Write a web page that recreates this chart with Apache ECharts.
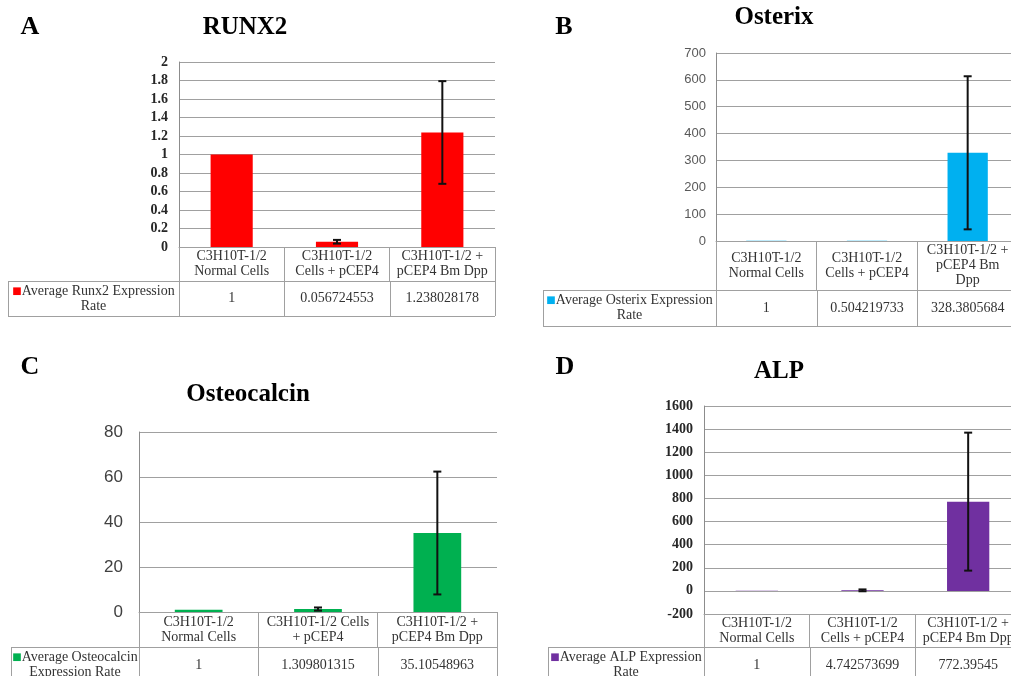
<!DOCTYPE html>
<html>
<head>
<meta charset="utf-8">
<script src="https://cdn.jsdelivr.net/npm/echarts@6/dist/echarts.min.js"></script>
<style>html,body{margin:0;padding:0;background:#fff}#main{width:1011px;height:676px}</style>
</head>
<body>
<div id="main"></div>
<script>
/* data */
var runx2Labels = ['C3H10T-1/2\nNormal Cells', 'C3H10T-1/2\nCells + pCEP4', 'C3H10T-1/2 +\npCEP4 Bm Dpp'];
var runx2Values = [1, 0.056724553, 1.238028178];
var runx2Errors = [0, 0.02, 0.555];
var runx2Ticks = [0, 2, 0.2];

var osterixLabels = ['C3H10T-1/2\nNormal Cells', 'C3H10T-1/2\nCells + pCEP4', 'C3H10T-1/2 +\npCEP4 Bm\nDpp'];
var osterixValues = [1, 0.504219733, 328.3805684];
var osterixErrors = [0, 0, 285];
var osterixTicks = [0, 700, 100];

var osteocalcinLabels = ['C3H10T-1/2\nNormal Cells', 'C3H10T-1/2 Cells\n+ pCEP4', 'C3H10T-1/2 +\npCEP4 Bm Dpp'];
var osteocalcinValues = [1, 1.309801315, 35.10548963];
var osteocalcinErrors = [0, 0.7, 27.3];
var osteocalcinTicks = [0, 80, 20];

var alpLabels = ['C3H10T-1/2\nNormal Cells', 'C3H10T-1/2\nCells + pCEP4', 'C3H10T-1/2 +\npCEP4 Bm Dpp'];
var alpValues = [1, 4.742573699, 772.39545];
var alpErrors = [0, 8, 597];
var alpTicks = [-200, 1600, 200];

var seriesNames = ['Average Runx2 Expression\nRate', 'Average Osterix Expression\nRate',
	'Average Osteocalcin\nExpression Rate', 'Average ALP Expression\nRate'];

var SERIF = '"Liberation Serif", "Times New Roman", serif';
var SANS = '"Liberation Sans", Arial, sans-serif';
var LINE = '#a0a0a0';

var panels = [
	{letter: 'A', letterAt: [30, 27], title: 'RUNX2', titleAt: [245, 28], color: '#ff0000',
		labels: runx2Labels, values: runx2Values, errors: runx2Errors, ticks: runx2Ticks, name: seriesNames[0],
		grid: {left: 179, top: 62, width: 316, height: 185}, headerBottom: 281, rowBottom: 316, cellLeft: 8,
		yLabel: {fontFamily: SERIF, fontSize: 14, fontWeight: 'bold', color: '#262626', margin: 11}},
	{letter: 'B', letterAt: [564, 27], title: 'Osterix', titleAt: [774, 18], color: '#00b0f0',
		labels: osterixLabels, values: osterixValues, errors: osterixErrors, ticks: osterixTicks, name: seriesNames[1],
		grid: {left: 716, top: 53, width: 302, height: 188}, headerBottom: 290, rowBottom: 326, cellLeft: 543,
		yLabel: {fontFamily: SANS, fontSize: 13, color: '#595959', margin: 10}},
	{letter: 'C', letterAt: [30, 367], title: 'Osteocalcin', titleAt: [248, 395], color: '#00b050',
		labels: osteocalcinLabels, values: osteocalcinValues, errors: osteocalcinErrors, ticks: osteocalcinTicks, name: seriesNames[2],
		grid: {left: 139, top: 432, width: 358, height: 180}, headerBottom: 647, rowBottom: 683, cellLeft: 11,
		yLabel: {fontFamily: SANS, fontSize: 17, color: '#404040', margin: 16}},
	{letter: 'D', letterAt: [565, 367], title: 'ALP', titleAt: [779, 372], color: '#7030a0',
		labels: alpLabels, values: alpValues, errors: alpErrors, ticks: alpTicks, name: seriesNames[3],
		grid: {left: 704, top: 406, width: 317, height: 208}, headerBottom: 647, rowBottom: 683, cellLeft: 548,
		yLabel: {fontFamily: SERIF, fontSize: 14, fontWeight: 'bold', color: '#262626', margin: 11}}
];

var myChart = echarts.init(document.getElementById('main'));

function errorBars(params, api) {
	var v = api.value(1), e = api.value(2);
	if (!e) return;
	var hi = api.coord([api.value(0), v + e]);
	var lo = api.coord([api.value(0), v - e]);
	var w = 4;
	var st = {stroke: '#111', lineWidth: 2};
	return {
		type: 'group',
		children: [
			{type: 'line', shape: {x1: hi[0], y1: hi[1], x2: lo[0], y2: lo[1]}, style: st},
			{type: 'line', shape: {x1: hi[0] - w, y1: hi[1], x2: hi[0] + w, y2: hi[1]}, style: st},
			{type: 'line', shape: {x1: lo[0] - w, y1: lo[1], x2: lo[0] + w, y2: lo[1]}, style: st}
		]
	};
}

var grids = [], xAxes = [], yAxes = [], series = [], graphics = [];

panels.forEach(function (p, k) {
	var g = p.grid;
	var gBottom = g.top + g.height;
	var headerH = p.headerBottom - gBottom;
	grids.push({left: g.left, top: g.top, width: g.width, height: g.height, outerBoundsMode: 'none', containLabel: false});
	xAxes.push({
		type: 'category', gridIndex: k, data: p.labels,
		axisLine: {show: true, onZero: false, lineStyle: {color: LINE}},
		axisTick: {show: true, length: headerH, interval: 0, lineStyle: {color: LINE}},
		axisLabel: {interval: 0, margin: headerH / 2, verticalAlign: 'middle', lineHeight: 15,
			fontFamily: SERIF, fontSize: 14, color: '#333'}
	});
	var yl = Object.assign({formatter: function (v) { return String(v); }}, p.yLabel);
	yAxes.push({
		type: 'value', gridIndex: k, min: p.ticks[0], max: p.ticks[1], interval: p.ticks[2],
		axisLine: {show: true, lineStyle: {color: '#8c8c8c'}},
		axisTick: {show: false},
		splitLine: {lineStyle: {color: LINE}},
		axisLabel: yl
	});
	series.push({
		name: p.name, type: 'bar', xAxisIndex: k, yAxisIndex: k, barWidth: '40%',
		itemStyle: {color: p.color}, data: p.values
	});
	series.push({
		type: 'custom', xAxisIndex: k, yAxisIndex: k, renderItem: errorBars,
		encode: {x: 0, y: 1}, z: 5,
		data: p.values.map(function (v, i) { return [i, v, p.errors[i]]; })
	});

	// panel letter and title
	graphics.push({type: 'text', x: p.letterAt[0], y: p.letterAt[1],
		style: {text: p.letter, font: 'bold 26px ' + SERIF, fill: '#000', align: 'center', verticalAlign: 'middle'}});
	graphics.push({type: 'text', x: p.titleAt[0], y: p.titleAt[1],
		style: {text: p.title, font: 'bold 25px ' + SERIF, fill: '#000', align: 'center', verticalAlign: 'middle'}});

	// data table row
	var right = g.left + g.width;
	var colW = g.width / p.labels.length;
	var rowMid = (p.headerBottom + p.rowBottom) / 2;
	[p.headerBottom, p.rowBottom].forEach(function (y) {
		graphics.push({type: 'line', shape: {x1: p.cellLeft, y1: y + 0.5, x2: right, y2: y + 0.5}, style: {stroke: LINE, lineWidth: 1}});
	});
	graphics.push({type: 'line', shape: {x1: p.cellLeft + 0.5, y1: p.headerBottom, x2: p.cellLeft + 0.5, y2: p.rowBottom}, style: {stroke: LINE, lineWidth: 1}});
	for (var c = 0; c <= p.labels.length; c++) {
		var x = Math.round(g.left + c * colW) + 0.5;
		graphics.push({type: 'line', shape: {x1: x, y1: p.headerBottom, x2: x, y2: p.rowBottom}, style: {stroke: LINE, lineWidth: 1}});
	}
	p.values.forEach(function (v, i) {
		graphics.push({type: 'text', x: g.left + (i + 0.5) * colW, y: rowMid,
			style: {text: String(v), font: '14px ' + SERIF, fill: '#333', align: 'center', verticalAlign: 'middle'}});
	});
	var nameLines = p.name.split('\n');
	graphics.push({type: 'text', x: (p.cellLeft + g.left) / 2, y: rowMid,
		style: {text: '{sq|■}{t|' + nameLines[0] + '}\n{t|' + nameLines[1] + '}', fill: '#333', align: 'center', verticalAlign: 'middle',
			rich: {
				sq: {fill: p.color, fontSize: 10, fontFamily: 'DejaVu Sans', lineHeight: 15},
				t: {fill: '#333', fontSize: 14, fontFamily: SERIF, lineHeight: 15}
			}}});
});

var option = {
	backgroundColor: '#fff',
	animation: false,
	grid: grids,
	xAxis: xAxes,
	yAxis: yAxes,
	series: series,
	graphic: {elements: graphics}
};
myChart.setOption(option);
</script>
</body>
</html>
